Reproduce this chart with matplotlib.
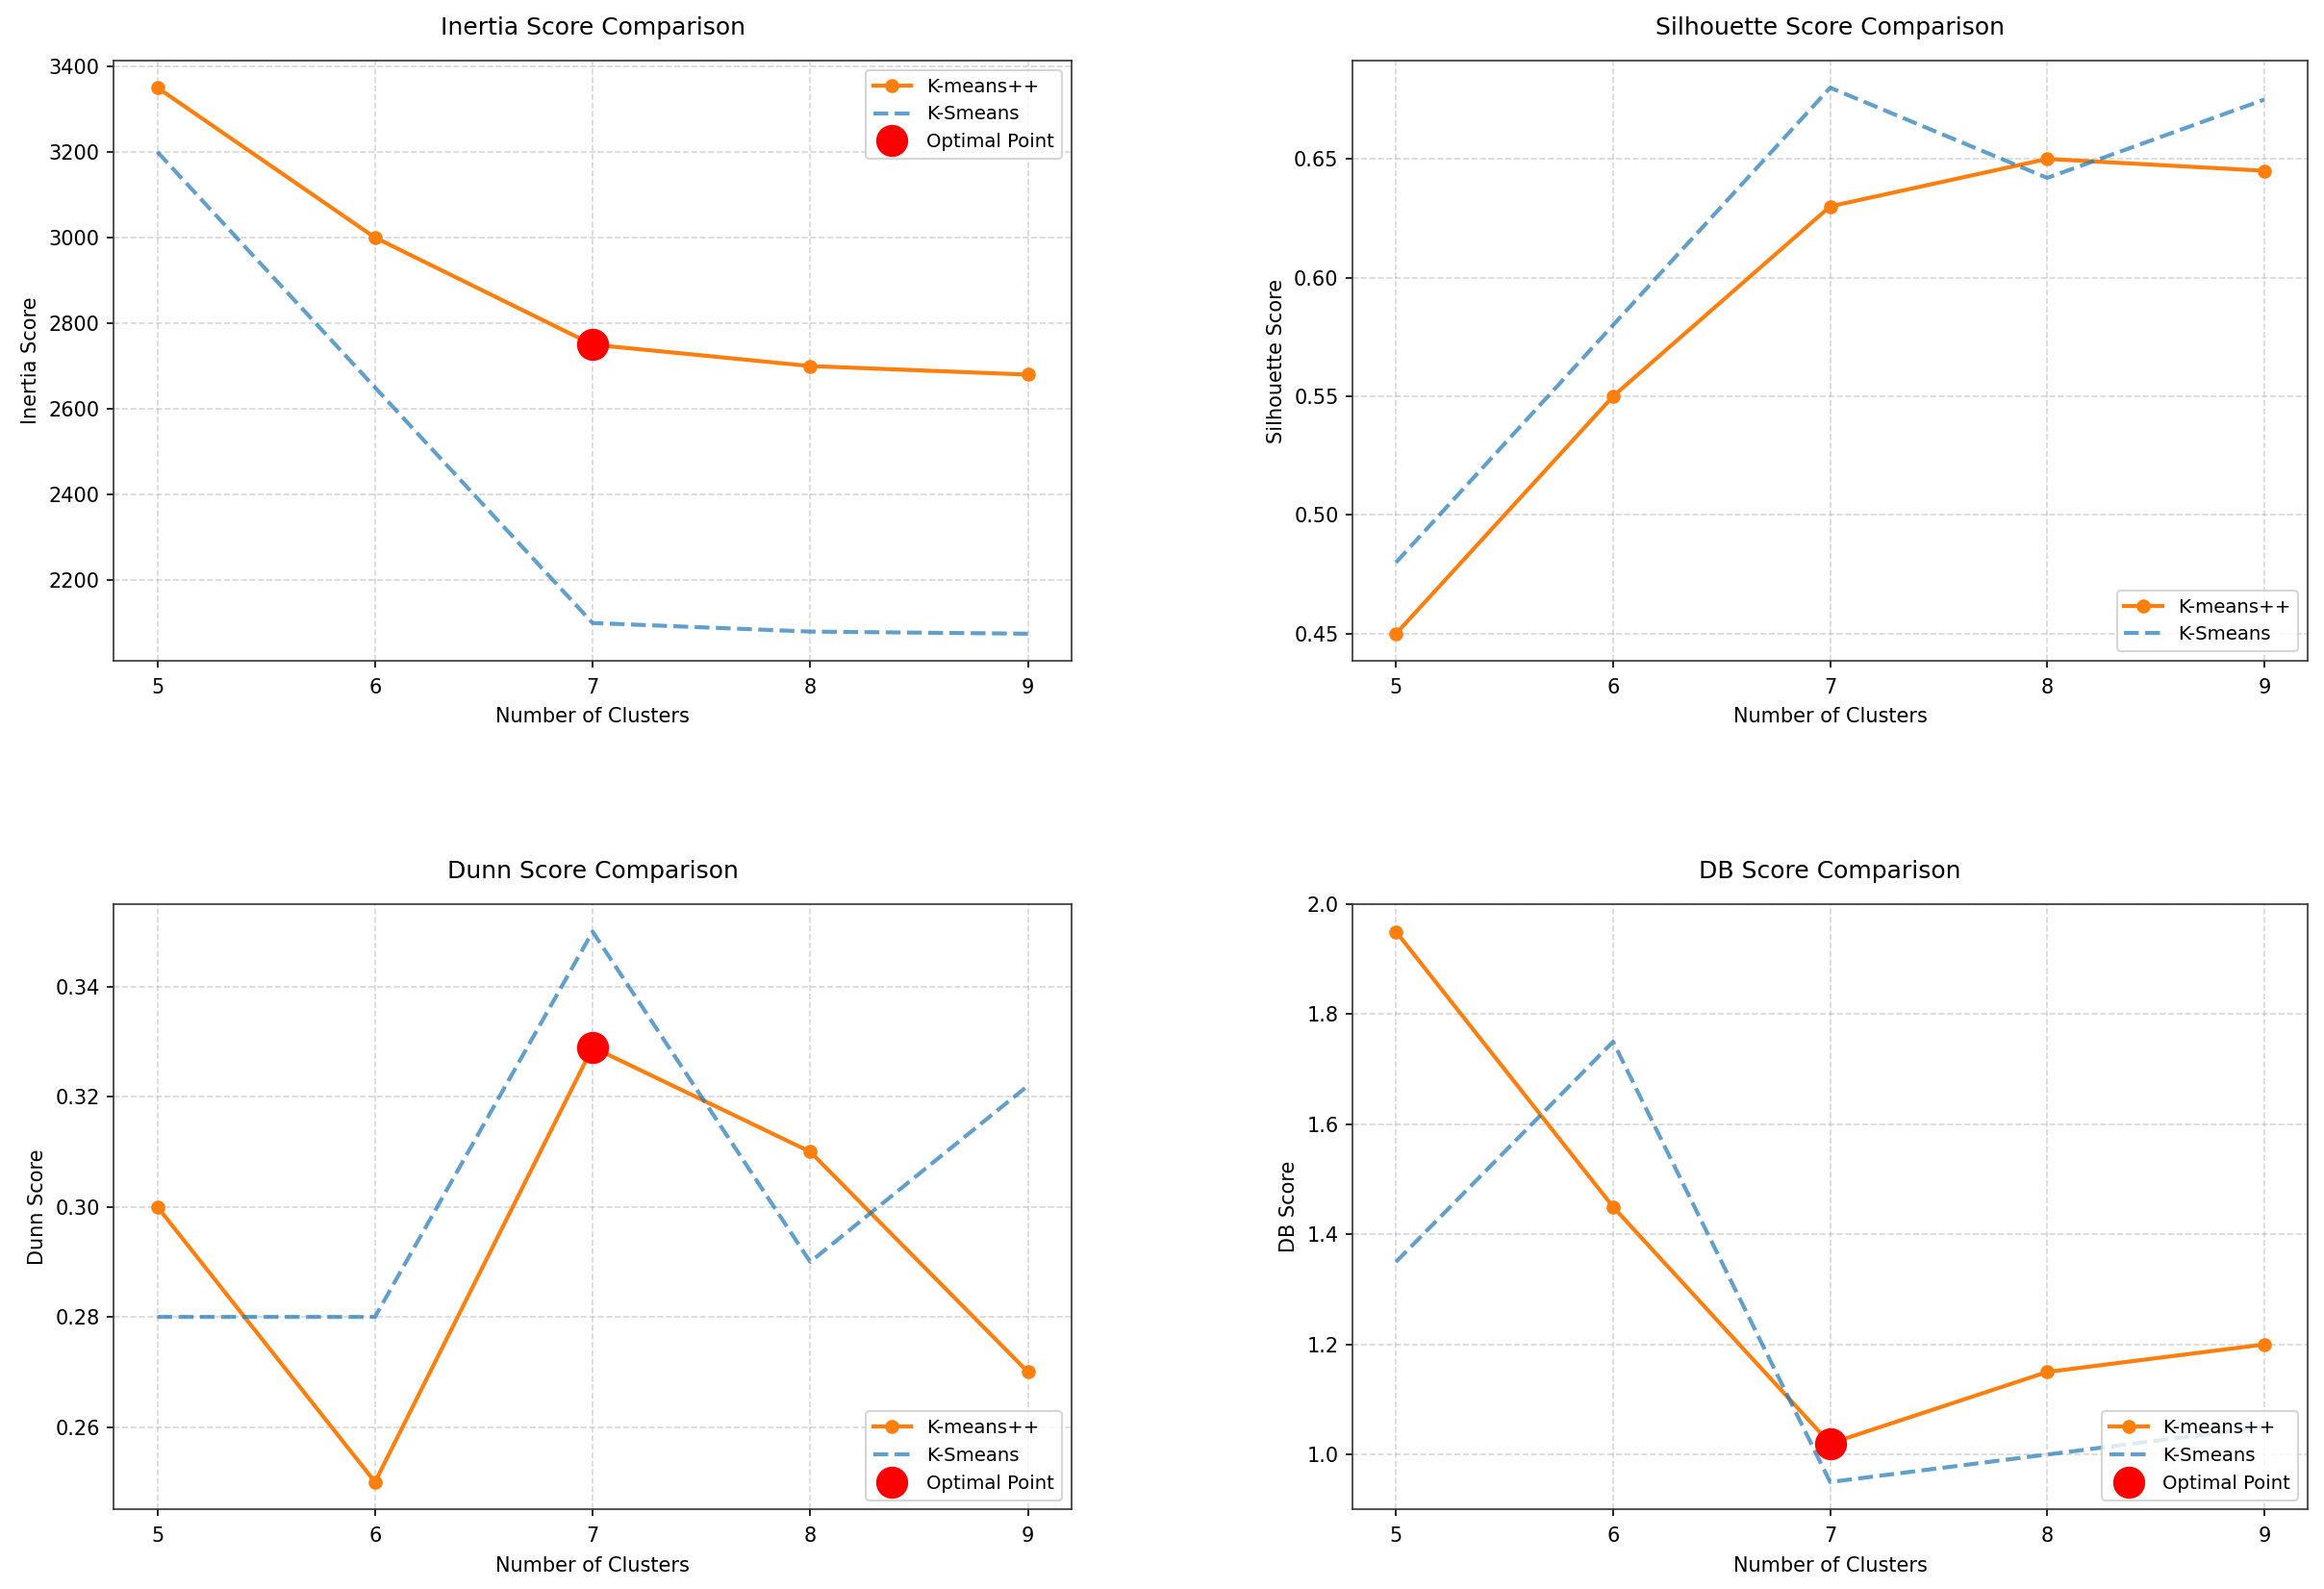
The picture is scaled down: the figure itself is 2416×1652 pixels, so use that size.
import matplotlib
matplotlib.use("Agg")
import matplotlib.pyplot as plt

clusters = [5, 6, 7, 8, 9]

inertia_kpp = [3350, 3000, 2750, 2700, 2680]
inertia_ks = [3200, 2650, 2100, 2080, 2075]

sil_kpp = [0.45, 0.55, 0.63, 0.65, 0.645]
sil_ks = [0.48, 0.58, 0.68, 0.642, 0.675]

dunn_kpp = [0.30, 0.25, 0.329, 0.31, 0.27]
dunn_ks = [0.28, 0.28, 0.35, 0.29, 0.322]

db_kpp = [1.95, 1.45, 1.02, 1.15, 1.20]
db_ks = [1.35, 1.75, 0.95, 1.00, 1.05]

optimal_k = 7
titles = ["Inertia Score Comparison", "Silhouette Score Comparison",
          "Dunn Score Comparison", "DB Score Comparison"]
ylabels = ["Inertia Score", "Silhouette Score", "Dunn Score", "DB Score"]
show_opt = [True, False, True, True]
legend_locs = ["upper right", "lower right", "lower right", "lower right"]

fig = plt.figure(figsize=(2416 / 150, 1652 / 150), dpi=150)
positions = [
    [0.049, 0.584, 0.412, 0.378],
    [0.582, 0.584, 0.411, 0.378],
    [0.049, 0.050, 0.412, 0.381],
    [0.582, 0.050, 0.411, 0.381],
]
data = [(inertia_kpp, inertia_ks), (sil_kpp, sil_ks),
        (dunn_kpp, dunn_ks), (db_kpp, db_ks)]

for i in range(4):
    ax = fig.add_axes(positions[i])
    kpp, ks = data[i]
    ax.plot(clusters, kpp, marker="o", color="#ff7f0e", linewidth=2,
            markersize=6, label="K-means++")
    ax.plot(clusters, ks, linestyle="--", color="#1f77b4", alpha=0.7,
            linewidth=2, label="K-Smeans")
    if show_opt[i]:
        idx = clusters.index(optimal_k)
        ax.plot([optimal_k], [kpp[idx]], "o", color="red", markersize=15,
                label="Optimal Point")
    ax.set_title(titles[i], fontsize=12, pad=13)
    ax.set_xlabel("Number of Clusters", fontsize=10, labelpad=5)
    ax.set_ylabel(ylabels[i], fontsize=10)
    ax.set_xticks(clusters)
    ax.tick_params(axis="x", pad=5)
    ax.grid(True, linestyle="--", alpha=0.5)
    ax.legend(loc=legend_locs[i], fontsize=9.5)
    for s in ax.spines.values():
        s.set_color("#333333")

fig.savefig("out.png", dpi=150)
